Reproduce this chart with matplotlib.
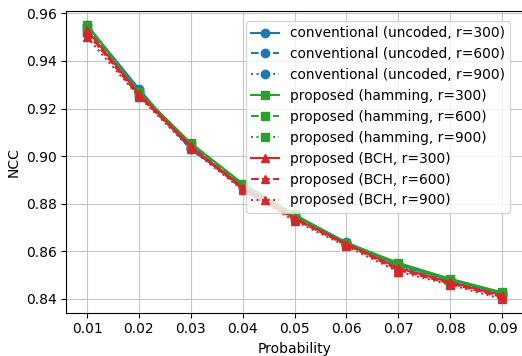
import matplotlib
matplotlib.use("Agg")
import matplotlib.pyplot as plt

prob = [0.01, 0.02, 0.03, 0.04, 0.05, 0.06, 0.07, 0.08, 0.09]

conv_300 = [0.9550, 0.9283, 0.9028, 0.8878, 0.8752, 0.8638, 0.8545, 0.8480, 0.8425]
conv_600 = [0.9535, 0.9275, 0.9032, 0.8872, 0.8745, 0.8632, 0.8540, 0.8475, 0.8420]
conv_900 = [0.9515, 0.9265, 0.9035, 0.8865, 0.8738, 0.8628, 0.8532, 0.8468, 0.8413]
ham_300 = [0.9552, 0.9270, 0.9055, 0.8885, 0.8755, 0.8635, 0.8552, 0.8485, 0.8428]
ham_600 = [0.9540, 0.9262, 0.9050, 0.8880, 0.8748, 0.8630, 0.8545, 0.8478, 0.8422]
ham_900 = [0.9520, 0.9252, 0.9042, 0.8872, 0.8740, 0.8625, 0.8538, 0.8470, 0.8415]
bch_300 = [0.9530, 0.9262, 0.9042, 0.8868, 0.8740, 0.8632, 0.8530, 0.8470, 0.8415]
bch_600 = [0.9520, 0.9255, 0.9038, 0.8862, 0.8735, 0.8628, 0.8522, 0.8465, 0.8408]
bch_900 = [0.9500, 0.9250, 0.9030, 0.8858, 0.8728, 0.8622, 0.8515, 0.8460, 0.8400]

labels = [
    "conventional (uncoded, r=300)",
    "conventional (uncoded, r=600)",
    "conventional (uncoded, r=900)",
    "proposed (hamming, r=300)",
    "proposed (hamming, r=600)",
    "proposed (hamming, r=900)",
    "proposed (BCH, r=300)",
    "proposed (BCH, r=600)",
    "proposed (BCH, r=900)",
]

series = [conv_300, conv_600, conv_900, ham_300, ham_600, ham_900, bch_300, bch_600, bch_900]
colors = ["#1f77b4"] * 3 + ["#2ca02c"] * 3 + ["#d62728"] * 3
markers = ["o"] * 3 + ["s"] * 3 + ["^"] * 3
styles = ["-", "--", ":"] * 3

fig = plt.figure(figsize=(5.22, 3.56), dpi=100)
W, H = 522, 356
left, right, top, bottom = 66.3, 522.8, 11.0, 312.7
ax = fig.add_axes([left / W, 1 - bottom / H, (right - left) / W, (bottom - top) / H])

for y, lab, c, m, ls in zip(series, labels, colors, markers, styles):
    ax.plot(prob, y, color=c, marker=m, linestyle=ls, label=lab, markersize=6)

ax.set_xlim(0.006, 0.094)
ax.set_ylim(0.83424, 0.96097)
ax.set_xticks(prob)
ax.set_yticks([0.84, 0.86, 0.88, 0.90, 0.92, 0.94, 0.96])
ax.grid(True, color="#b0b0b0", alpha=0.7)
ax.set_xlabel("Probability")
ax.set_ylabel("NCC")
ax.legend(loc="upper right", fontsize=9.9, bbox_to_anchor=(0.988, 0.99))

fig.savefig("out.png", dpi=100)
